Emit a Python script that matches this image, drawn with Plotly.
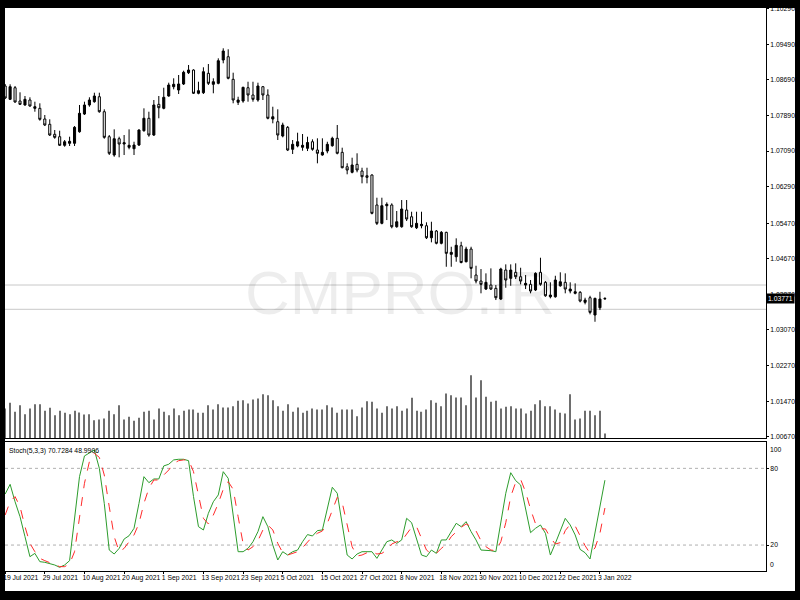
import pandas as pd
import plotly.graph_objects as go

# ---------------- data ----------------
dates = pd.bdate_range("2021-07-19", "2022-01-04")
cats = [d.strftime("%Y-%m-%d") for d in dates]
tick_idx = list(range(0, len(cats), 8))
tick_labels = [dates[i].strftime("%-d %b %Y") for i in tick_idx]

open_ = [1.08553, 1.08254, 1.08514, 1.08215, 1.08126, 1.08238, 1.08051, 1.08051, 1.07811, 1.07692,
         1.07467, 1.07413, 1.07220, 1.07265, 1.07265, 1.07525, 1.07923, 1.08126, 1.08200, 1.08312,
         1.07975, 1.07413, 1.07002, 1.07368, 1.07249, 1.07175, 1.07143, 1.07226, 1.07548, 1.07827,
         1.07451, 1.08141, 1.08051, 1.08328, 1.08537, 1.08463, 1.08598, 1.08852, 1.08912, 1.08389,
         1.08402, 1.08838, 1.08591, 1.08613, 1.09137, 1.09211, 1.08703, 1.08186, 1.08215, 1.08514,
         1.08350, 1.08238, 1.08537, 1.08350, 1.07811, 1.07750, 1.07429, 1.07624, 1.07130, 1.07204,
         1.07175, 1.07152, 1.07300, 1.07114, 1.07002, 1.07091, 1.07211, 1.07377, 1.07062, 1.06738,
         1.06613, 1.06792, 1.06642, 1.06536, 1.06552, 1.05878, 1.05466, 1.05862, 1.05878, 1.05390,
         1.05390, 1.05765, 1.05614, 1.05367, 1.05412, 1.05412, 1.05142, 1.05293, 1.05017, 1.05264,
         1.04769, 1.04715, 1.04962, 1.04603, 1.04888, 1.04304, 1.04169, 1.03989, 1.04079, 1.04005,
         1.03764, 1.04416, 1.04230, 1.04365, 1.04266, 1.04079, 1.04095, 1.03967, 1.04365, 1.04140,
         1.03816, 1.03816, 1.04063, 1.04140, 1.03944, 1.03893, 1.03915, 1.03690, 1.03794, 1.03405,
         1.03569, 1.03780]
high = [1.08598, 1.08591, 1.08553, 1.08411, 1.08328, 1.08299, 1.08200, 1.08164, 1.07901, 1.07804,
        1.07564, 1.07548, 1.07339, 1.07413, 1.07653, 1.08126, 1.08200, 1.08299, 1.08402, 1.08402,
        1.08029, 1.07451, 1.07579, 1.07413, 1.07451, 1.07579, 1.07300, 1.07579, 1.08051, 1.07975,
        1.08238, 1.08328, 1.08514, 1.08627, 1.08726, 1.08800, 1.08897, 1.09025, 1.08928, 1.08649,
        1.08973, 1.09047, 1.08726, 1.09175, 1.09400, 1.09378, 1.08852, 1.08312, 1.08537, 1.08649,
        1.08649, 1.08627, 1.08553, 1.08478, 1.08087, 1.08029, 1.07728, 1.07653, 1.07339, 1.07503,
        1.07474, 1.07413, 1.07354, 1.07377, 1.07377, 1.07300, 1.07413, 1.07676, 1.07166, 1.06815,
        1.06941, 1.07040, 1.06716, 1.06716, 1.06568, 1.06042, 1.06042, 1.05938, 1.05916, 1.05743,
        1.05990, 1.05990, 1.05727, 1.05727, 1.05727, 1.05489, 1.05502, 1.05316, 1.05293, 1.05277,
        1.04940, 1.05129, 1.05052, 1.04940, 1.04940, 1.04513, 1.04439, 1.04342, 1.04454, 1.04079,
        1.04468, 1.04544, 1.04544, 1.04567, 1.04468, 1.04304, 1.04192, 1.04365, 1.04693, 1.04169,
        1.04140, 1.04288, 1.04365, 1.04342, 1.04140, 1.04117, 1.03944, 1.03794, 1.03838, 1.03794,
        1.03928, 1.03803]
low = [1.08260, 1.08238, 1.08177, 1.08126, 1.08110, 1.08087, 1.07975, 1.07773, 1.07653, 1.07429,
       1.07368, 1.07204, 1.07188, 1.07204, 1.07204, 1.07503, 1.07901, 1.08087, 1.08177, 1.07952,
       1.07368, 1.07002, 1.06963, 1.06950, 1.07002, 1.07130, 1.07002, 1.07204, 1.07525, 1.07413,
       1.07429, 1.07827, 1.08029, 1.08312, 1.08478, 1.08373, 1.08575, 1.08822, 1.08373, 1.08366,
       1.08373, 1.08575, 1.08389, 1.08591, 1.09063, 1.08703, 1.08164, 1.08126, 1.08177, 1.08200,
       1.08200, 1.08200, 1.08238, 1.07804, 1.07714, 1.07339, 1.07399, 1.07091, 1.07024, 1.07175,
       1.07098, 1.07091, 1.07098, 1.06815, 1.06986, 1.07040, 1.07188, 1.07017, 1.06703, 1.06568,
       1.06590, 1.06613, 1.06365, 1.06365, 1.05668, 1.05428, 1.05444, 1.05540, 1.05354, 1.05367,
       1.05367, 1.05518, 1.05367, 1.05338, 1.05354, 1.05113, 1.05039, 1.04994, 1.04994, 1.04490,
       1.04490, 1.04603, 1.04567, 1.04589, 1.04230, 1.04117, 1.03893, 1.03967, 1.03967, 1.03742,
       1.03742, 1.04018, 1.04063, 1.04214, 1.04095, 1.03989, 1.03893, 1.03944, 1.04063, 1.03816,
       1.03780, 1.03794, 1.04041, 1.03893, 1.03893, 1.03870, 1.03690, 1.03645, 1.03420, 1.03254,
       1.03517, 1.03749]
close = [1.08283, 1.08537, 1.08193, 1.08141, 1.08254, 1.08103, 1.08087, 1.07804, 1.07676, 1.07451,
         1.07399, 1.07220, 1.07300, 1.07309, 1.07624, 1.07939, 1.08126, 1.08238, 1.08328, 1.07975,
         1.07399, 1.07040, 1.07368, 1.07249, 1.07278, 1.07220, 1.07226, 1.07564, 1.07827, 1.07451,
         1.08126, 1.08065, 1.08299, 1.08575, 1.08591, 1.08598, 1.08861, 1.08912, 1.08389, 1.08447,
         1.08874, 1.08613, 1.08649, 1.09121, 1.09339, 1.08726, 1.08238, 1.08238, 1.08523, 1.08350,
         1.08254, 1.08553, 1.08350, 1.07827, 1.07862, 1.07451, 1.07676, 1.07114, 1.07242, 1.07300,
         1.07220, 1.07283, 1.07130, 1.07040, 1.07062, 1.07242, 1.07377, 1.07040, 1.06716, 1.06664,
         1.06777, 1.06664, 1.06514, 1.06500, 1.05691, 1.05466, 1.05862, 1.05893, 1.05390, 1.05502,
         1.05788, 1.05563, 1.05390, 1.05466, 1.05444, 1.05142, 1.05293, 1.05017, 1.05264, 1.04792,
         1.04814, 1.04972, 1.04585, 1.04888, 1.04454, 1.04169, 1.04095, 1.04140, 1.03989, 1.03794,
         1.04439, 1.04192, 1.04416, 1.04266, 1.04169, 1.04117, 1.03944, 1.04342, 1.04095, 1.03838,
         1.03854, 1.04192, 1.04153, 1.03989, 1.03989, 1.03928, 1.03719, 1.03742, 1.03465, 1.03780,
         1.03764, 1.03771]
volume = [3000, 3570, 2670, 3330, 2430, 3000, 3430, 3430, 2770, 3070,
          2330, 2770, 2570, 2430, 2770, 2600, 2400, 2430, 1830, 1900,
          2000, 2770, 2430, 3330, 1900, 2170, 1770, 2070, 2670, 2770,
          1900, 3000, 2670, 2330, 3000, 2330, 2770, 2900, 2900, 2570,
          2570, 3330, 2900, 3430, 3100, 3100, 3230, 3770, 3830, 3500,
          3900, 4000, 4430, 4330, 3830, 3230, 2770, 3430, 2670, 3100,
          2570, 2770, 3000, 2900, 2900, 3330, 3100, 2570, 2900, 2900,
          2900, 2230, 3100, 3730, 3670, 3000, 2570, 3230, 3000, 3230,
          2770, 3000, 4070, 2770, 2670, 2900, 3830, 3570, 3230, 4500,
          4330, 4100, 4100, 3330, 6330, 4100, 5830, 4170, 3670, 3770,
          3000, 3170, 3230, 3000, 3000, 2500, 2770, 3430, 3830, 3230,
          3230, 2900, 2570, 2500, 4430, 1900, 2000, 2770, 2770, 2330,
          2770, 500]
stoch_k = [59.9, 67.5, 53.9, 42.2, 26.6, 10.9, 13.5, 7.0, 6.5, 5.7,
           4.4, 2.6, 4.4, 7.8, 42.2, 73.5, 89.7, 91.8, 94.4, 80.0,
           52.6, 16.1, 13.0, 17.4, 24.7, 27.3, 33.1, 52.6, 73.5, 68.8,
           71.7, 71.7, 81.9, 83.2, 86.6, 87.1, 87.1, 86.0, 57.9, 34.4,
           31.8, 44.8, 53.9, 59.2, 77.4, 72.2, 42.2, 14.8, 14.8, 17.4,
           22.6, 30.5, 42.2, 34.4, 20.0, 8.3, 14.8, 12.2, 14.8, 16.1,
           22.6, 28.2, 27.1, 31.3, 31.8, 47.4, 65.2, 60.5, 34.4, 12.2,
           9.1, 13.0, 14.8, 14.8, 14.8, 9.6, 16.1, 22.6, 24.0, 21.3,
           24.0, 40.9, 37.5, 25.3, 12.2, 10.9, 16.1, 13.5, 24.0, 24.0,
           30.5, 37.0, 34.4, 38.3, 30.5, 24.0, 16.1, 16.1, 15.6, 14.8,
           37.0, 60.5, 76.6, 70.4, 67.0, 47.4, 29.7, 33.1, 35.7, 29.2,
           12.2, 21.3, 31.8, 40.9, 35.7, 27.9, 16.6, 14.0, 9.1, 29.7,
           48.7, 70.73]
stoch_d = [43.5, 53.9, 57.9, 50.0, 34.4, 21.3, 14.8, 9.6, 7.8, 6.2,
           5.2, 3.1, 3.1, 5.2, 14.8, 42.2, 68.3, 85.3, 91.8, 88.6,
           74.8, 50.0, 26.6, 14.8, 17.4, 22.6, 27.9, 37.0, 52.6, 64.4,
           70.9, 70.9, 74.8, 78.7, 83.9, 86.0, 86.6, 86.6, 77.4, 59.2,
           40.9, 36.5, 43.5, 52.6, 63.6, 69.6, 63.6, 42.2, 21.3, 16.1,
           18.7, 23.4, 31.8, 35.7, 31.8, 21.3, 14.0, 12.2, 13.5, 14.8,
           18.0, 22.6, 26.6, 29.2, 31.0, 37.0, 47.4, 57.3, 53.2, 35.7,
           18.7, 11.4, 12.2, 14.0, 14.8, 13.0, 13.5, 16.1, 20.8, 22.6,
           23.2, 28.6, 33.9, 34.4, 25.3, 16.1, 13.0, 13.5, 17.4, 20.6,
           26.6, 30.5, 33.9, 36.5, 34.4, 31.0, 23.4, 18.7, 16.1, 15.6,
           22.6, 37.5, 57.9, 69.1, 71.4, 61.5, 48.0, 36.7, 32.8, 32.6,
           25.8, 20.8, 21.9, 31.3, 36.2, 34.9, 26.8, 19.5, 13.5, 17.7,
           29.2, 48.99]

price_ticks = [1.1029, 1.0949, 1.0869, 1.0789, 1.0709, 1.0629, 1.0547, 1.0467,
               1.0387, 1.0307, 1.0227, 1.0147, 1.0067]
price_range = [1.00630, 1.10306]
hlines = [1.0408, 1.03534]
stoch_levels = [80, 20]
last_price = 1.03771
stoch_title = "Stoch(5,3,3) 70.7284 48.9906"
watermark = "CMPRO.IR"

FONT = "Liberation Sans, Arial, sans-serif"
XR = [-0.03, 153.5]

fig = go.Figure()
fig.add_trace(go.Bar(x=cats, y=volume, xaxis="x", yaxis="y3", width=0.22,
                     marker=dict(color="#6e6e6e", line=dict(width=0)), hoverinfo="skip"))
fig.add_trace(go.Candlestick(x=cats, open=open_, high=high, low=low, close=close,
                             xaxis="x", yaxis="y", whiskerwidth=0,
                             increasing=dict(line=dict(color="black", width=1), fillcolor="black"),
                             decreasing=dict(line=dict(color="black", width=1), fillcolor="white")))
fig.add_trace(go.Scatter(x=cats, y=stoch_k, xaxis="x2", yaxis="y2", mode="lines",
                         line=dict(color="#2c9c2c", width=1)))
fig.add_trace(go.Scatter(x=cats, y=stoch_d, xaxis="x2", yaxis="y2", mode="lines",
                         line=dict(color="#ff2a2a", width=1, dash="dash")))

axfont = dict(family=FONT, size=6.8, color="black")
fig.update_layout(
    width=800, height=600, margin=dict(l=5, r=34, t=8, b=29, autoexpand=False),
    paper_bgcolor="white", plot_bgcolor="white", showlegend=False, boxgap=0.4,
    xaxis=dict(domain=[0, 1], anchor="y", type="category", range=XR, automargin=False,
               showticklabels=False, ticks="", showgrid=False, showline=True,
               linecolor="black", linewidth=1, rangeslider=dict(visible=False)),
    xaxis2=dict(domain=[0, 1], anchor="y2", type="category", range=XR, automargin=False,
                tickmode="array", tickvals=[cats[i] for i in tick_idx], ticktext=tick_labels,
                tickangle=0, ticklabelposition="outside right", ticklabelshift=-3,
                ticks="outside", ticklen=2, tickcolor="black", showgrid=False, showline=True,
                mirror=True, linecolor="black", linewidth=1, tickfont=axfont),
    yaxis=dict(domain=[0.23535, 1], anchor="x", side="right", range=price_range, automargin=False,
               tickmode="array", tickvals=price_ticks, ticktext=[f"{v:.5f}" for v in price_ticks],
               ticks="outside", ticklen=2, tickcolor="black", showgrid=False, zeroline=False,
               showline=True, linecolor="black", linewidth=1, tickfont=axfont),
    yaxis3=dict(overlaying="y", range=[0, 43050], visible=False),
    yaxis2=dict(domain=[0, 0.2300], anchor="x2", side="right", range=[-0.3, 101.0],
                automargin=False, tickmode="array", tickvals=stoch_levels,
                ticktext=[str(v) for v in stoch_levels],
                ticks="outside", ticklen=2, tickcolor="black", showgrid=False, zeroline=False,
                showline=True, linecolor="black", linewidth=1, tickfont=axfont),
)

shapes = []
for v in hlines:
    shapes.append(dict(type="line", xref="paper", x0=0, x1=1, yref="y", y0=v, y1=v,
                       line=dict(color="#c8c8c8", width=1), layer="below"))
for v in stoch_levels:
    shapes.append(dict(type="line", xref="paper", x0=0, x1=1, yref="y2", y0=v, y1=v,
                       line=dict(color="#b0b0b0", width=1, dash="dot"), layer="below"))
# black frame around the picture
frame = dict(type="rect", xref="paper", yref="paper", fillcolor="black",
             line=dict(width=0), layer="above")
shapes.append(dict(frame, x0=-0.02, x1=0.0, y0=-0.06, y1=1.03))
shapes.append(dict(frame, x0=1.03811, x1=1.06, y0=-0.06, y1=1.03))
shapes.append(dict(frame, x0=-0.02, x1=1.06, y0=1.0, y1=1.03))
shapes.append(dict(frame, x0=-0.02, x1=1.06, y0=-0.06, y1=-0.03552))
fig.update_layout(shapes=shapes)

annotations = [
    dict(text=watermark, xref="paper", yref="paper", x=0.519, y=0.4947, showarrow=False,
         xanchor="center", yanchor="middle",
         font=dict(family="Liberation Sans, Arial, sans-serif",
                   size=62, color="rgba(0,0,0,0.07)")),
    dict(text=f"{last_price:.5f}", xref="paper", yref="y", x=1.0, y=last_price, showarrow=False,
         xanchor="left", yanchor="middle", bgcolor="black", borderpad=1, xshift=0,
         font=dict(family=FONT, size=6.8, color="white")),
    dict(text=stoch_title, xref="paper", yref="paper", x=0.0024, y=0.2123, showarrow=False,
         xanchor="left", yanchor="middle", font=axfont),
    dict(text="100", xref="paper", yref="y2", x=1.0, y=100, xshift=2, yshift=-6.5,
         showarrow=False, xanchor="left", yanchor="middle", font=axfont),
    dict(text="0", xref="paper", yref="y2", x=1.0, y=0, xshift=2, yshift=6.6,
         showarrow=False, xanchor="left", yanchor="middle", font=axfont),
]
fig.update_layout(annotations=annotations)

fig.write_html("out.html", config={"displayModeBar": False},
               post_script="document.body.style.margin='0';document.body.style.overflow='hidden';")
